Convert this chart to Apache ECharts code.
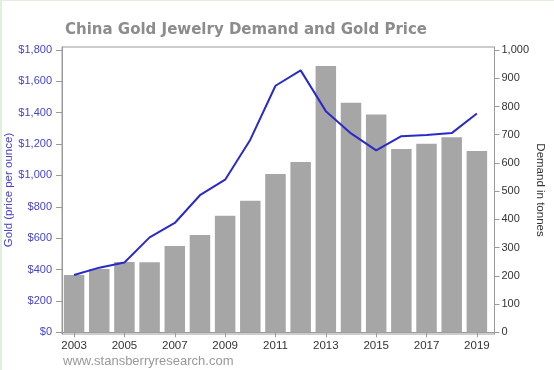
<!DOCTYPE html>
<html>
<head>
<meta charset="utf-8">
<script src="https://cdn.jsdelivr.net/npm/echarts@6/dist/echarts.min.js"></script>
<style>
html,body{margin:0;padding:0;background:#fff;}
#c{width:554px;height:370px;box-sizing:border-box;border-top:1px solid #e3efdd;border-left:2px solid #e3efdd;}
</style>
</head>
<body>
<div id="c"></div>
<script>
const years = [2003,2004,2005,2006,2007,2008,2009,2010,2011,2012,2013,2014,2015,2016,2017,2018,2019];
const goldPrice = [365,412,445,605,697,874,973,1228,1572,1670,1410,1268,1160,1250,1258,1270,1395];
const jewelryDemand = [203,224,249,248,306,345,413,466,561,603,943,813,772,649,668,691,642];
const yearTicks = [2003,2005,2007,2009,2011,2013,2015,2017,2019];
const priceTicks = [0,200,400,600,800,1000,1200,1400,1600,1800];
const demandTicks = [0,100,200,300,400,500,600,700,800,900,1000];

const chart = echarts.init(document.getElementById('c'));
const fmt = v => v.toLocaleString('en-US');
chart.setOption({
  animation: false,
  backgroundColor: '#fff',
  title: {
    text: 'China Gold Jewelry Demand and Gold Price',
    left: 58, top: 17,
    textStyle: {fontFamily: 'DejaVu Sans', fontWeight: 'bold', fontSize: 15, color: '#8c8c8c'}
  },
  grid: {left: 60, right: 59.5, top: 46, bottom: 36, show: true, borderColor: '#9a9a9a', borderWidth: 1, outerBoundsMode: 'none', containLabel: false},
  xAxis: {
    type: 'value', min: 2002.52, max: 2019.7,
    splitLine: {show: false},
    axisLine: {show: true, lineStyle: {color: '#9a9a9a'}},
    axisTick: {show: true, length: 5, customValues: yearTicks, lineStyle: {color: '#9a9a9a'}},
    axisLabel: {customValues: yearTicks, formatter: v => String(v), color: '#333', fontFamily: 'Arial', fontSize: 11.5, margin: 6}
  },
  yAxis: [{
    type: 'value', min: -11, max: 1819,
    splitLine: {show: false},
    axisLine: {show: true, lineStyle: {color: '#9a9a9a'}},
    axisTick: {show: true, length: 6, customValues: priceTicks, lineStyle: {color: '#9a9a9a'}},
    axisLabel: {customValues: priceTicks, formatter: v => '$' + fmt(v), color: '#4545c8', fontFamily: 'Arial', fontSize: 11, margin: 10}
  }, {
    type: 'value', min: -6, max: 1010.7,
    splitLine: {show: false},
    axisLine: {show: true, lineStyle: {color: '#9a9a9a'}},
    axisTick: {show: true, length: 5, customValues: demandTicks, lineStyle: {color: '#9a9a9a'}},
    axisLabel: {customValues: demandTicks, formatter: v => fmt(v), color: '#333', fontFamily: 'Arial', fontSize: 11, margin: 7}
  }],
  graphic: [{
    type: 'text', left: 61, top: 354,
    style: {text: 'www.stansberryresearch.com', fill: '#999', font: '13px Arial'}
  }, {
    type: 'text', x: 7, y: 189, rotation: Math.PI / 2,
    style: {text: 'Gold (price per ounce)', fill: '#4545c8', font: '11.5px Arial', align: 'center', verticalAlign: 'middle'}
  }, {
    type: 'text', x: 538, y: 189, rotation: -Math.PI / 2,
    style: {text: 'Demand in tonnes', fill: '#333', font: '11.5px Arial', align: 'center', verticalAlign: 'middle'}
  }],
  series: [{
    type: 'bar', yAxisIndex: 1, barWidth: 20.5,
    itemStyle: {color: '#a6a6a6'},
    data: years.map((y, i) => [y, jewelryDemand[i]]),
    z: 1
  }, {
    type: 'line', yAxisIndex: 0, symbol: 'none',
    lineStyle: {color: '#2a2ac4', width: 2},
    data: years.map((y, i) => [y, goldPrice[i]]),
    z: 3
  }]
});
</script>
</body>
</html>
